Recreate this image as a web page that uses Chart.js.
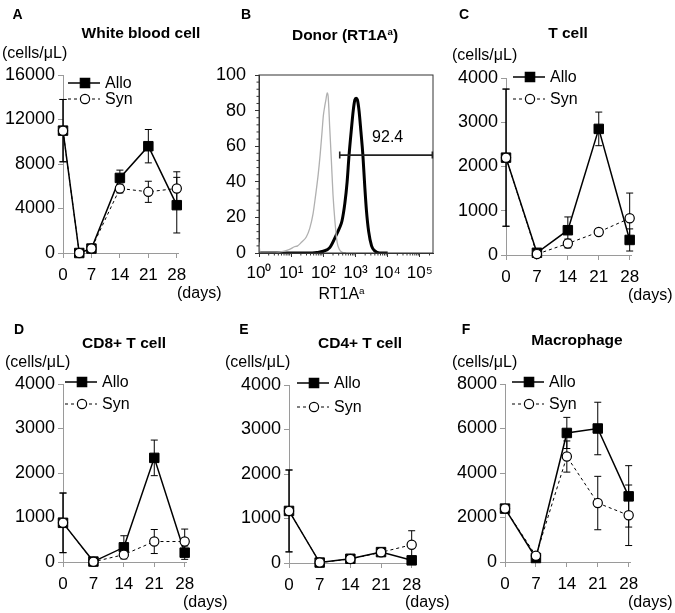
<!DOCTYPE html>
<html>
<head>
<meta charset="utf-8">
<script src="https://cdn.jsdelivr.net/npm/chart.js@4.4.1/dist/chart.umd.min.js"></script>
<style>
  body { margin: 0; background: #fff; }
  #fig { position: relative; width: 675px; height: 613px; overflow: hidden; font-family: "Liberation Sans", Arial, sans-serif; color: #000; }
  #fig canvas { position: absolute; left: 0; top: 0; }
  .t { position: absolute; white-space: nowrap; line-height: 1; }
  .c { transform: translate(-50%, -50%); }
  .l { transform: translateY(-50%); }
  .letter { font-weight: bold; font-size: 14px; }
  .title { font-weight: bold; font-size: 15.5px; }
  .unit { font-size: 16px; }
  sup { font-size: 62%; vertical-align: 0.55em; line-height: 0; }
</style>
</head>
<body>
<div id="fig">
  <canvas id="cA" width="675" height="613"></canvas>
  <canvas id="cB" width="675" height="613"></canvas>
  <canvas id="cC" width="675" height="613"></canvas>
  <canvas id="cD" width="675" height="613"></canvas>
  <canvas id="cE" width="675" height="613"></canvas>
  <canvas id="cF" width="675" height="613"></canvas>

  <div class="t c letter" style="left:17.5px;top:14px">A</div>
  <div class="t c letter" style="left:246px;top:14px">B</div>
  <div class="t c letter" style="left:464px;top:14px">C</div>
  <div class="t c letter" style="left:19px;top:329px">D</div>
  <div class="t c letter" style="left:244px;top:329px">E</div>
  <div class="t c letter" style="left:466px;top:329px">F</div>

  <div class="t c title" style="left:141px;top:33px">White blood cell</div>
  <div class="t c title" style="left:345px;top:35px">Donor (RT1A<sup>a</sup>)</div>
  <div class="t c title" style="left:568px;top:33px">T cell</div>
  <div class="t c title" style="left:124px;top:343px">CD8+ T cell</div>
  <div class="t c title" style="left:360px;top:343px">CD4+ T cell</div>
  <div class="t c title" style="left:577px;top:340px">Macrophage</div>

  <div class="t l unit" style="left:2px;top:53px">(cells/μL)</div>
  <div class="t l unit" style="left:452px;top:55px">(cells/μL)</div>
  <div class="t l unit" style="left:5px;top:362px">(cells/μL)</div>
  <div class="t l unit" style="left:225px;top:362px">(cells/μL)</div>
  <div class="t l unit" style="left:452px;top:362px">(cells/μL)</div>

  <div class="t l unit" style="left:177px;top:293px">(days)</div>
  <div class="t l unit" style="left:628px;top:295px">(days)</div>
  <div class="t l unit" style="left:183px;top:602px">(days)</div>
  <div class="t l unit" style="left:405px;top:602px">(days)</div>
  <div class="t l unit" style="left:628px;top:602px">(days)</div>

  <div class="t c unit" style="left:341.5px;top:294px">RT1A<sup>a</sup></div>
</div>
<script>
// ---- data ----

// days after transplant
const daysWbc = [0, 4, 7, 14, 21, 28];
const days = [0, 7, 14, 21, 28];
const dayTicks = [0, 7, 14, 21, 28];

// A: white blood cell (cells/uL), mean and error
const wbcAllo = [11000, 0, 400, 6750, 9600, 4300];
const wbcAlloErr = [2800, 0, 150, 700, 1500, 2500];
const wbcSyn = [11000, 0, 400, 5800, 5500, 5800];
const wbcSynErr = [2800, 0, 150, 400, 950, 1500];
const wbcTicks = [0, 4000, 8000, 12000, 16000];

// C: T cell
const tAllo = [2200, 50, 560, 2850, 340];
const tAlloErr = [1550, 30, 300, 380, 250];
const tSyn = [2200, 20, 260, 520, 830];
const tSynErr = [1550, 20, 100, 50, 570];

// D: CD8+ T cell
const cd8Allo = [880, 10, 330, 2340, 210];
const cd8AlloErr = [670, 20, 260, 400, 150];
const cd8Syn = [880, 5, 165, 460, 460];
const cd8SynErr = [670, 10, 60, 270, 280];

// E: CD4+ T cell
const cd4Allo = [1170, 10, 95, 245, 60];
const cd4AlloErr = [920, 10, 40, 50, 40];
const cd4Syn = [1170, 10, 90, 240, 410];
const cd4SynErr = [920, 10, 40, 60, 315];

const tcellTicks = [0, 1000, 2000, 3000, 4000];

// F: macrophage
const macAllo = [2400, 180, 5800, 6000, 2950];
const macAlloErr = [100, 60, 700, 1180, 1380];
const macSyn = [2400, 280, 4740, 2650, 2100];
const macSynErr = [100, 60, 700, 1200, 1360];
const macTicks = [0, 2000, 4000, 6000, 8000];

// B: histogram, x in decades of RT1Aa fluorescence, y in % of max
const isoX = [0, 0.03, 0.4, 0.65, 0.95, 1.1, 1.2, 1.32, 1.47, 1.58, 1.68, 1.75, 1.84, 1.9, 1.96, 2.0, 2.04, 2.08, 2.12, 2.15, 2.2, 2.25, 2.3, 2.36, 2.43, 2.5, 2.6, 2.7];
const isoY = [6, 0, 0, 0.5, 2, 3.5, 4, 6, 9, 14, 22, 31, 44, 55, 68, 77, 82, 86, 90, 88, 70, 52, 33, 18, 6, 2, 0.3, 0];
const donorX = [0, 1.5, 1.8, 2.0, 2.2, 2.4, 2.5, 2.58, 2.67, 2.74, 2.8, 2.87, 2.93, 2.98, 3.02, 3.06, 3.11, 3.17, 3.23, 3.29, 3.34, 3.41, 3.5, 3.6, 3.75, 4.0];
const donorY = [0, 0, 0.3, 1, 3, 10, 14, 18, 28, 40, 55, 69, 80, 86, 87, 86, 80, 68, 55, 37, 24, 12, 4, 1.2, 0, 0];
const histYTicks = [0, 20, 40, 60, 80, 100];
const decadeTicks = [0, 1, 2, 3, 4, 5];
const decadeLabels = ["10\u2070", "10\u00b9", "10\u00b2", "10\u00b3", "10\u2074", "10\u2075"];
const gateFrom = 2.51;
const gateTo = 5.39;
const gateLevel = 55;
const gatePercent = "92.4";

// ---- drawing ----

Chart.defaults.font.family = "'Liberation Sans', Arial, sans-serif";
Chart.defaults.color = "#000";

const W = 675, H = 613;
const YW = 60, XH = 30;
const AXIS = "#9a9a9a";

// error bars under the markers
const errorBars = {
  id: "errorBars",
  beforeDatasetsDraw(chart) {
    const ctx = chart.ctx;
    const ys = chart.scales.y;
    chart.data.datasets.forEach((ds, i) => {
      if (!ds.errors) return;
      const meta = chart.getDatasetMeta(i);
      ctx.save();
      ctx.strokeStyle = "#000";
      ctx.lineWidth = 1;
      meta.data.forEach((pt, j) => {
        const e = ds.errors[j];
        if (!e) return;
        const v = ds.data[j].y;
        const top = ys.getPixelForValue(v + e);
        const bot = ys.getPixelForValue(v - e);
        ctx.beginPath();
        ctx.moveTo(pt.x, top);
        ctx.lineTo(pt.x, bot);
        ctx.moveTo(pt.x - 3.5, top);
        ctx.lineTo(pt.x + 3.5, top);
        ctx.moveTo(pt.x - 3.5, bot);
        ctx.lineTo(pt.x + 3.5, bot);
        ctx.stroke();
      });
      ctx.restore();
    });
  },
};

// legend box inside the plot
const keyBox = {
  id: "keyBox",
  afterDraw(chart, args, opts) {
    if (opts.x === undefined) return;
    const ctx = chart.ctx;
    const rows = [
      { ds: chart.data.datasets.find((d) => d.label === "Allo"), y: opts.y1 },
      { ds: chart.data.datasets.find((d) => d.label === "Syn"), y: opts.y2 },
    ];
    ctx.save();
    rows.forEach((r) => {
      ctx.strokeStyle = "#000";
      ctx.lineWidth = r.ds.borderWidth;
      ctx.setLineDash(r.ds.borderDash || []);
      ctx.beginPath();
      ctx.moveTo(opts.x, r.y);
      ctx.lineTo(opts.x + 32, r.y);
      ctx.stroke();
      ctx.setLineDash([]);
      ctx.lineWidth = 1.2;
      ctx.fillStyle = r.ds.pointBackgroundColor;
      ctx.beginPath();
      if (r.ds.pointStyle === "rect") {
        ctx.rect(opts.x + 17 - 4.7, r.y - 4.7, 9.4, 9.4);
      } else {
        ctx.arc(opts.x + 17, r.y, 4.6, 0, Math.PI * 2);
      }
      ctx.fill();
      ctx.stroke();
      ctx.fillStyle = "#000";
      ctx.font = "16px 'Liberation Sans', Arial, sans-serif";
      ctx.textBaseline = "middle";
      ctx.fillText(r.ds.label, opts.x + 37, r.y + 1);
    });
    ctx.restore();
  },
};

// significance asterisks
const stars = {
  id: "stars",
  afterDatasetsDraw(chart, args, opts) {
    if (!opts.list) return;
    const ctx = chart.ctx;
    ctx.save();
    ctx.font = "14px 'Liberation Sans', Arial, sans-serif";
    ctx.textAlign = "center";
    ctx.textBaseline = "middle";
    opts.list.forEach((s) => {
      const x = chart.scales.x.getPixelForValue(s.day);
      const y = chart.scales.y.getPixelForValue(s.value);
      ctx.fillText(s.text, x, y + 3);
    });
    ctx.restore();
  },
};

function axisStyle(tickLen, pad, size, color) {
  return {
    grid: { drawOnChartArea: false, tickLength: tickLen, color: color },
    border: { color: color, width: 1 },
    ticks: { font: { size: size }, color: "#000", padding: pad, callback: (v) => String(v) },
  };
}

function timeCourse(id, cfg) {
  const a = cfg.area;
  const xs = axisStyle(5, 7, 17, AXIS);
  const ysAxis = axisStyle(5, 3, 18, AXIS);
  new Chart(document.getElementById(id), {
    type: "line",
    data: {
      datasets: [
        {
          label: "Syn",
          data: cfg.x.map((d, i) => ({ x: d, y: cfg.syn[i] })),
          errors: cfg.synErr,
          order: 0,
          borderColor: "#000",
          borderWidth: 1,
          borderDash: [3, 3],
          pointStyle: "circle",
          pointRadius: 4.6,
          pointBackgroundColor: "#fff",
          pointBorderColor: "#000",
          pointBorderWidth: 1.2,
          clip: false,
        },
        {
          label: "Allo",
          data: cfg.x.map((d, i) => ({ x: d, y: cfg.allo[i] })),
          errors: cfg.alloErr,
          order: 1,
          borderColor: "#000",
          borderWidth: 1.5,
          pointStyle: "rect",
          pointRadius: 6.7,
          pointBackgroundColor: "#000",
          pointBorderColor: "#000",
          pointBorderWidth: 1,
          clip: false,
        },
      ],
    },
    options: {
      responsive: false,
      animation: false,
      events: [],
      layout: { padding: { left: a.l - YW, top: a.t, right: W - a.r, bottom: H - a.b - XH } },
      scales: {
        x: Object.assign({}, xs, {
          type: "linear",
          min: 0,
          max: 28.3,
          afterBuildTicks: (s) => { s.ticks = dayTicks.map((v) => ({ value: v })); },
          afterFit: (s) => { s.height = XH; },
        }),
        y: Object.assign({}, ysAxis, {
          min: 0,
          max: cfg.ticks[cfg.ticks.length - 1],
          afterBuildTicks: (s) => { s.ticks = cfg.ticks.map((v) => ({ value: v })); },
          afterFit: (s) => { s.width = YW; },
        }),
      },
      plugins: {
        legend: { display: false },
        tooltip: { enabled: false },
        keyBox: cfg.key,
        stars: { list: cfg.stars },
      },
    },
    plugins: [errorBars, keyBox, stars],
  });
}

timeCourse("cA", {
  area: { l: 63, r: 178, t: 75, b: 253 },
  x: daysWbc, allo: wbcAllo, alloErr: wbcAlloErr, syn: wbcSyn, synErr: wbcSynErr,
  ticks: wbcTicks,
  key: { x: 68, y1: 83, y2: 99 },
  stars: [{ day: 23.5, value: 12200, text: "**" }],
});

timeCourse("cC", {
  area: { l: 506, r: 631, t: 78, b: 255 },
  x: days, allo: tAllo, alloErr: tAlloErr, syn: tSyn, synErr: tSynErr,
  ticks: tcellTicks,
  key: { x: 513, y1: 77, y2: 99 },
  stars: [{ day: 8.3, value: 660, text: "*" }, { day: 22.8, value: 3550, text: "**" }],
});

timeCourse("cD", {
  area: { l: 63, r: 186, t: 384, b: 562 },
  x: days, allo: cd8Allo, alloErr: cd8AlloErr, syn: cd8Syn, synErr: cd8SynErr,
  ticks: tcellTicks,
  key: { x: 65, y1: 382, y2: 404 },
  stars: [{ day: 23.6, value: 3070, text: "**" }, { day: 29.1, value: 1120, text: "*" }],
});

timeCourse("cE", {
  area: { l: 289, r: 413, t: 385, b: 563 },
  x: days, allo: cd4Allo, alloErr: cd4AlloErr, syn: cd4Syn, synErr: cd4SynErr,
  ticks: tcellTicks,
  key: { x: 297, y1: 383, y2: 407 },
  stars: [{ day: 29.4, value: 1130, text: "*" }],
});

timeCourse("cF", {
  area: { l: 505, r: 630, t: 384, b: 562 },
  x: days, allo: macAllo, alloErr: macAlloErr, syn: macSyn, synErr: macSynErr,
  ticks: macTicks,
  key: { x: 512, y1: 382, y2: 404 },
  stars: [],
});

// B: flow histogram
const flowFrame = {
  id: "flowFrame",
  afterDraw(chart) {
    const ctx = chart.ctx;
    const ca = chart.chartArea;
    const xs = chart.scales.x, ys = chart.scales.y;
    ctx.save();
    ctx.strokeStyle = "#333";
    ctx.lineWidth = 1;
    ctx.strokeRect(ca.left, ca.top, ca.right - ca.left, ca.bottom - ca.top);
    // minor ticks
    ctx.beginPath();
    decadeTicks.forEach((d) => {
      for (let k = 2; k <= 9; k++) {
        const u = d + Math.log10(k);
        if (u > xs.max) break;
        const px = xs.getPixelForValue(u);
        ctx.moveTo(px, ca.bottom);
        ctx.lineTo(px, ca.bottom + 2.5);
      }
    });
    for (let v = 4; v < 100; v += 4) {
      if (v % 20 === 0) continue;
      const py = ys.getPixelForValue(v);
      ctx.moveTo(ca.left, py);
      ctx.lineTo(ca.left - 2.5, py);
    }
    ctx.stroke();
    // gate
    const g1 = xs.getPixelForValue(gateFrom);
    const g2 = xs.getPixelForValue(gateTo);
    const gy = ys.getPixelForValue(gateLevel);
    ctx.strokeStyle = "#222";
    ctx.lineWidth = 1.6;
    ctx.beginPath();
    ctx.moveTo(g1, gy);
    ctx.lineTo(g2, gy);
    ctx.moveTo(g1, gy - 3.5);
    ctx.lineTo(g1, gy + 3.5);
    ctx.moveTo(g2, gy - 3.5);
    ctx.lineTo(g2, gy + 3.5);
    ctx.stroke();
    ctx.fillStyle = "#000";
    ctx.font = "16px 'Liberation Sans', Arial, sans-serif";
    ctx.textAlign = "center";
    ctx.textBaseline = "middle";
    ctx.fillText(gatePercent, xs.getPixelForValue(4.0), ys.getPixelForValue(65));
    ctx.restore();
  },
};

(function () {
  const a = { l: 259, r: 433, t: 75, b: 253 };
  const xs = axisStyle(4, 6, 17, "#333");
  const ysAxis = axisStyle(4, 9, 18, "#333");
  xs.ticks.callback = (v, i) => decadeLabels[i];
  new Chart(document.getElementById("cB"), {
    type: "line",
    data: {
      datasets: [
        {
          label: "Isotype",
          data: isoX.map((x, i) => ({ x: x, y: isoY[i] })),
          borderColor: "#b0b0b0",
          borderWidth: 1.3,
          pointRadius: 0,
          cubicInterpolationMode: "monotone",
        },
        {
          label: "Donor",
          data: donorX.map((x, i) => ({ x: x, y: donorY[i] })),
          borderColor: "#000",
          borderWidth: 3,
          pointRadius: 0,
          cubicInterpolationMode: "monotone",
        },
      ],
    },
    options: {
      responsive: false,
      animation: false,
      events: [],
      layout: { padding: { left: a.l - YW, top: a.t, right: W - a.r, bottom: H - a.b - XH } },
      scales: {
        x: Object.assign({}, xs, {
          type: "linear",
          min: 0,
          max: 5.41,
          afterBuildTicks: (s) => { s.ticks = decadeTicks.map((v) => ({ value: v })); },
          afterFit: (s) => { s.height = XH; },
        }),
        y: Object.assign({}, ysAxis, {
          min: 0,
          max: 100,
          afterBuildTicks: (s) => { s.ticks = histYTicks.map((v) => ({ value: v })); },
          afterFit: (s) => { s.width = YW; },
        }),
      },
      plugins: { legend: { display: false }, tooltip: { enabled: false } },
    },
    plugins: [flowFrame],
  });
})();
</script>
</body>
</html>
